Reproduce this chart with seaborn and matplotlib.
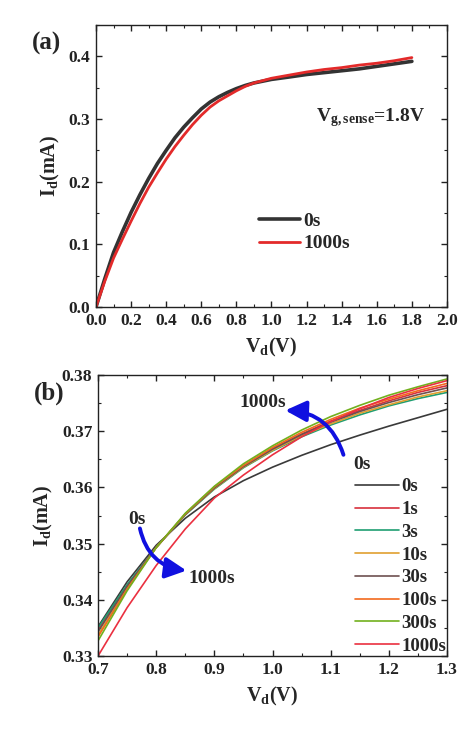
import numpy as np
import pandas as pd
import matplotlib
matplotlib.use("Agg")
import matplotlib.pyplot as plt
from matplotlib.ticker import MultipleLocator, FormatStrFormatter
import seaborn as sns

# ---------------- data: panel (a) ----------------
vd_a = [0.0, 0.05, 0.1, 0.15, 0.2, 0.25, 0.3, 0.35, 0.4, 0.45, 0.5, 0.55, 0.6, 0.65,
        0.7, 0.75, 0.8, 0.85, 0.9, 1.0, 1.1, 1.2, 1.3, 1.4, 1.5, 1.6, 1.7, 1.8]
id_a_0s = [0.0, 0.045, 0.087, 0.120, 0.151, 0.179, 0.205, 0.229, 0.250, 0.270, 0.287,
           0.302, 0.316, 0.327, 0.3355, 0.3425, 0.3485, 0.3535, 0.3575, 0.3632, 0.367,
           0.371, 0.374, 0.377, 0.380, 0.384, 0.388, 0.392]
id_a_1000s = [0.0, 0.041, 0.078, 0.108, 0.137, 0.165, 0.191, 0.214, 0.236, 0.256, 0.274,
              0.291, 0.306, 0.319, 0.329, 0.337, 0.345, 0.352, 0.3575, 0.365, 0.370, 0.375,
              0.379, 0.382, 0.386, 0.389, 0.393, 0.398]
labels_a = ["0s", "1000s"]

# ---------------- data: panel (b) ----------------
vd_b = [0.70, 0.75, 0.80, 0.85, 0.90, 0.95, 1.00, 1.05, 1.10, 1.15, 1.20, 1.25, 1.30]
id_b_0s    = [0.3352, 0.3432, 0.3497, 0.3545, 0.3583, 0.3612, 0.3636, 0.3657, 0.3676, 0.3693, 0.3709, 0.3724, 0.3739]
id_b_1s    = [0.3346, 0.3425, 0.3493, 0.3552, 0.3600, 0.3638, 0.3669, 0.3695, 0.3718, 0.3737, 0.3754, 0.3769, 0.3781]
id_b_3s    = [0.3350, 0.3427, 0.3493, 0.3551, 0.3597, 0.3635, 0.3665, 0.3690, 0.3711, 0.3729, 0.3745, 0.3758, 0.3769]
id_b_10s   = [0.3337, 0.3421, 0.3493, 0.3552, 0.3598, 0.3636, 0.3666, 0.3692, 0.3713, 0.3732, 0.3747, 0.3761, 0.3772]
id_b_30s   = [0.3343, 0.3424, 0.3493, 0.3552, 0.3599, 0.3637, 0.3668, 0.3694, 0.3716, 0.3735, 0.3751, 0.3765, 0.3777]
id_b_100s  = [0.3334, 0.3419, 0.3493, 0.3553, 0.3601, 0.3639, 0.3671, 0.3698, 0.3721, 0.3741, 0.3757, 0.3772, 0.3785]
id_b_300s  = [0.3327, 0.3416, 0.3493, 0.3554, 0.3602, 0.3642, 0.3674, 0.3702, 0.3726, 0.3746, 0.3764, 0.3779, 0.3793]
id_b_1000s = [0.3300, 0.3386, 0.3461, 0.3526, 0.3581, 0.3622, 0.3658, 0.3690, 0.3717, 0.3740, 0.3760, 0.3776, 0.3790]
labels_b = ["0s", "1s", "3s", "10s", "30s", "100s", "300s", "1000s"]
series_b = [id_b_0s, id_b_1s, id_b_3s, id_b_10s, id_b_30s, id_b_100s, id_b_300s, id_b_1000s]
colors_b = ["#3a3a3a", "#d8303c", "#1f9e72", "#e0a030", "#6e5050", "#f26a1e", "#72b01e", "#ea3040"]

# ---------------- style ----------------
sns.set_theme(style="ticks")
plt.rcParams["font.family"] = ["Liberation Serif", "DejaVu Serif"]
plt.rcParams["font.weight"] = "bold"
plt.rcParams["axes.labelweight"] = "bold"
plt.rcParams["mathtext.fontset"] = "custom"
plt.rcParams["mathtext.rm"] = "Liberation Serif:bold"
plt.rcParams["mathtext.it"] = "Liberation Serif:bold"
plt.rcParams["mathtext.bf"] = "Liberation Serif:bold"

fig = plt.figure(figsize=(4.74, 7.31), dpi=100)
ax_a = fig.add_axes([0.2025, 0.580, 0.7405, 0.3858])
ax_b = fig.add_axes([0.2068, 0.1026, 0.7362, 0.3844])

def style_axes(ax):
    for s in ax.spines.values():
        s.set_linewidth(1.0)
        s.set_color("#222222")
    ax.tick_params(which="both", direction="in", top=True, right=True,
                   labelsize=12.5, colors="#222222", pad=4)
    ax.tick_params(which="major", length=4, width=1.0)
    ax.tick_params(which="minor", length=2.5, width=0.8)
    for lab in ax.get_xticklabels() + ax.get_yticklabels():
        lab.set_fontweight("bold")

# ---------------- panel (a) ----------------
df_a = pd.DataFrame({
    "V": vd_a * 2,
    "I": id_a_0s + id_a_1000s,
    "t": [labels_a[0]] * len(vd_a) + [labels_a[1]] * len(vd_a),
})
sns.lineplot(data=df_a[df_a.t == "0s"], x="V", y="I", ax=ax_a, color="#333333",
             lw=2.6, label="0s", sort=False)
sns.lineplot(data=df_a[df_a.t == "1000s"], x="V", y="I", ax=ax_a, color="#e32a2a",
             lw=2.0, label="1000s", sort=False)
ax_a.set_xlim(0.0, 2.0)
ax_a.set_ylim(0.0, 0.45)
ax_a.xaxis.set_major_locator(MultipleLocator(0.2))
ax_a.xaxis.set_minor_locator(MultipleLocator(0.1))
ax_a.yaxis.set_major_locator(MultipleLocator(0.1))
ax_a.yaxis.set_minor_locator(MultipleLocator(0.05))
ax_a.xaxis.set_major_formatter(FormatStrFormatter("%.1f"))
ax_a.yaxis.set_major_formatter(FormatStrFormatter("%.1f"))
ax_a.set_xlabel(r"V$_{\mathregular{d}}$(V)", fontsize=14.5, fontweight="bold", labelpad=5)
ax_a.set_ylabel(r"I$_{\mathregular{d}}$(mA)", fontsize=14.5, fontweight="bold", labelpad=5)
style_axes(ax_a)
ax_a.legend(loc="center left", bbox_to_anchor=(0.465, 0.265), frameon=False,
            prop={"family": "Liberation Serif", "weight": "bold", "size": 14},
            handlelength=2.1, handletextpad=0.15, labelspacing=0.25,
            borderpad=0, borderaxespad=0)
ax_a.text(1.255, 0.302, r"V$_{\mathregular{g,sense}}$=1.8V", ha="left", va="center",
          fontsize=14, fontweight="bold")
fig.text(0.068, 0.94, "(a)", fontsize=18, fontweight="bold", ha="left", va="center")

# ---------------- panel (b) ----------------
rows = []
for lab, vals in zip(labels_b, series_b):
    for v, i in zip(vd_b, vals):
        rows.append((v, i, lab))
df_b = pd.DataFrame(rows, columns=["V", "I", "t"])
for lab, col in zip(labels_b, colors_b):
    sns.lineplot(data=df_b[df_b.t == lab], x="V", y="I", ax=ax_b, color=col,
                 lw=1.2, label=lab, sort=False)
ax_b.set_xlim(0.7, 1.3)
ax_b.set_ylim(0.33, 0.38)
ax_b.xaxis.set_major_locator(MultipleLocator(0.1))
ax_b.xaxis.set_minor_locator(MultipleLocator(0.05))
ax_b.yaxis.set_major_locator(MultipleLocator(0.01))
ax_b.yaxis.set_minor_locator(MultipleLocator(0.005))
ax_b.xaxis.set_major_formatter(FormatStrFormatter("%.1f"))
ax_b.yaxis.set_major_formatter(FormatStrFormatter("%.2f"))
ax_b.set_xlabel(r"V$_{\mathregular{d}}$(V)", fontsize=14.5, fontweight="bold", labelpad=5)
ax_b.set_ylabel(r"I$_{\mathregular{d}}$(mA)", fontsize=14.5, fontweight="bold", labelpad=5)
style_axes(ax_b)
ax_b.legend(loc="lower left", bbox_to_anchor=(0.736, 0.005), frameon=False,
            prop={"family": "Liberation Serif", "weight": "bold", "size": 13.5},
            handlelength=2.35, handletextpad=0.15, labelspacing=0.3,
            borderpad=0, borderaxespad=0)

arrow_kw = dict(arrowstyle="-|>,head_length=0.9,head_width=0.45", color="#1010e0",
                lw=2.8, mutation_scale=14,
                connectionstyle="arc3,rad=0.35", shrinkA=0, shrinkB=0)
ax_b.annotate("", xy=(0.852, 0.3452), xytext=(0.772, 0.3527), arrowprops=arrow_kw)
ax_b.annotate("", xy=(1.022, 0.3737), xytext=(1.122, 0.3658), arrowprops=arrow_kw)
ax_b.text(0.7665, 0.3542, "0s", fontsize=14, fontweight="bold", ha="center", va="center")
ax_b.text(0.8954, 0.3438, "1000s", fontsize=14, fontweight="bold", ha="center", va="center")
ax_b.text(0.984, 0.3751, "1000s", fontsize=14, fontweight="bold", ha="center", va="center")
ax_b.text(1.153, 0.3640, "0s", fontsize=14, fontweight="bold", ha="center", va="center")
fig.text(0.072, 0.462, "(b)", fontsize=18, fontweight="bold", ha="left", va="center")

fig.savefig("out.png", dpi=100)
